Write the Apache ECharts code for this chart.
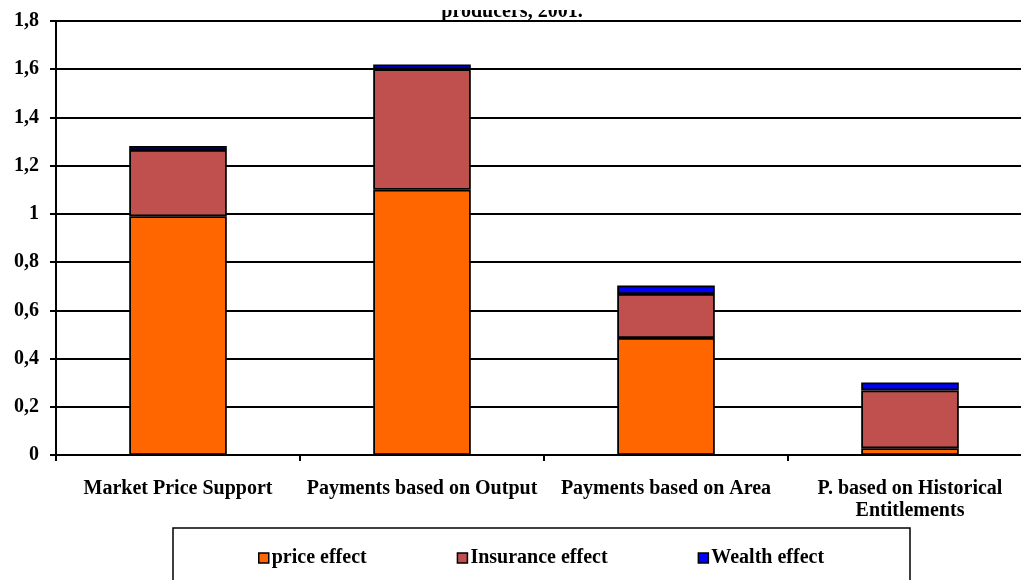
<!DOCTYPE html>
<html>
<head>
<meta charset="utf-8">
<script src="https://cdn.jsdelivr.net/npm/echarts@6/dist/echarts.min.js"></script>
<style>html,body{margin:0;padding:0;background:#fff;}#c{width:1021px;height:580px;}</style>
</head>
<body>
<div id="c"></div>
<script>
const categories = ['Market Price Support', 'Payments based on Output', 'Payments based on Area', 'P. based on Historical\nEntitlements'];
const priceEffect = [0.99, 1.10, 0.485, 0.028];
const insuranceEffect = [0.275, 0.50, 0.183, 0.24];
const wealthEffect = [0.017, 0.02, 0.035, 0.033];
const seriesNames = ['price effect', 'Insurance effect', 'Wealth effect'];
const yTicks = ['0', '0,2', '0,4', '0,6', '0,8', '1', '1,2', '1,4', '1,6', '1,8'];
const titleText = 'producers, 2001.';

const font = '"Liberation Serif", "Times New Roman", serif';
const colors = ['#FF6600', '#C0504D', '#0000FF'];
const chart = echarts.init(document.getElementById('c'), null, {renderer: 'canvas'});

function mk(name, data, color) {
  return {
    name: name, type: 'bar', stack: 'a', data: data, barWidth: '40%',
    itemStyle: {color: color, borderColor: '#000', borderWidth: 1.8},
    emphasis: {disabled: true}
  };
}

chart.setOption({
  animation: false,
  backgroundColor: '#fff',
  grid: {left: 56, top: 21, width: 976, height: 434, containLabel: false, outerBoundsMode: 'none'},
  xAxis: {
    type: 'category', data: categories,
    axisLine: {lineStyle: {color: '#000', width: 2}},
    axisTick: {show: true, length: 6, lineStyle: {color: '#000', width: 2}},
    axisLabel: {color: '#000', fontFamily: font, fontWeight: 'bold', fontSize: 20, margin: 23, lineHeight: 22, interval: 0}
  },
  yAxis: {
    type: 'value', min: 0, max: 1.8, interval: 0.2,
    axisLine: {show: true, lineStyle: {color: '#000', width: 2}},
    axisTick: {show: true, length: 6, lineStyle: {color: '#000', width: 2}},
    splitLine: {lineStyle: {color: '#000', width: 2}},
    axisLabel: {color: '#000', fontFamily: font, fontWeight: 'bold', fontSize: 20, margin: 17,
      formatter: function (v) { return yTicks[Math.round(v / 0.2)]; }}
  },
  legend: {
    data: seriesNames, left: 253, top: 543, icon: 'rect', itemWidth: 10, itemHeight: 10, itemGap: 90,
    itemStyle: {borderColor: '#000', borderWidth: 1.5},
    textStyle: {color: '#000', fontFamily: font, fontWeight: 'bold', fontSize: 20, padding: [0, 0, 0, -2]}
  },
  graphic: [
    {type: 'rect', shape: {x: 173, y: 528, width: 737, height: 70}, style: {fill: 'none', stroke: '#000', lineWidth: 1.5}, z: 0},
    {type: 'text', x: 512, y: 22, style: {text: titleText, fill: '#000', font: 'bold 20px ' + font, textAlign: 'center', textVerticalAlign: 'bottom'}, z: 1},
    {type: 'rect', shape: {x: 300, y: 0, width: 420, height: 10}, style: {fill: '#fff'}, z: 2}
  ],
  series: [
    mk(seriesNames[0], priceEffect, colors[0]),
    mk(seriesNames[1], insuranceEffect, colors[1]),
    mk(seriesNames[2], wealthEffect, colors[2])
  ]
});
</script>
</body>
</html>
